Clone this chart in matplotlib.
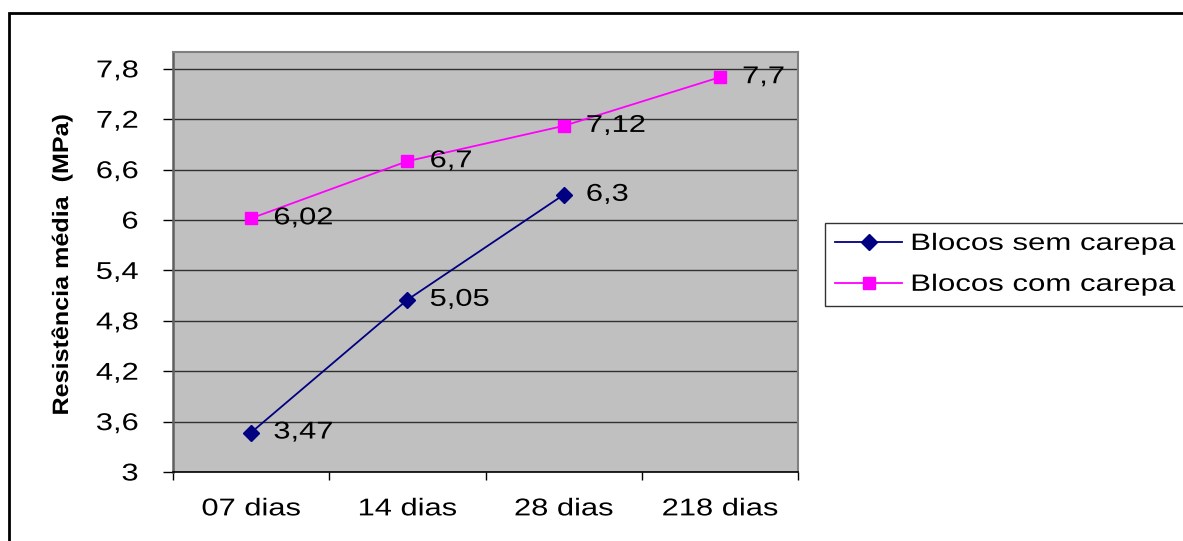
import matplotlib
matplotlib.use("Agg")
import matplotlib.pyplot as plt
from matplotlib.patches import Rectangle
from matplotlib.patheffects import AbstractPathEffect
from matplotlib.transforms import Affine2D
import numpy as np

categories = ["07 dias", "14 dias", "28 dias", "218 dias"]
sem_carepa = [3.47, 5.05, 6.3]
com_carepa = [6.02, 6.7, 7.12, 7.7]
sem_labels = ["3,47", "5,05", "6,3"]
com_labels = ["6,02", "6,7", "7,12", "7,7"]
y_ticks = [3.0, 3.6, 4.2, 4.8, 5.4, 6.0, 6.6, 7.2, 7.8]
y_tick_labels = ["3", "3,6", "4,2", "4,8", "5,4", "6", "6,6", "7,2", "7,8"]
series_names = ["Blocos sem carepa", "Blocos com carepa"]
y_label = "Resistência média  (MPa)"

plt.rcParams['font.family'] = ['Liberation Sans', 'DejaVu Sans']


class Stretch(AbstractPathEffect):
    """Widen glyphs along the text baseline (the reference text is horizontally stretched)."""

    def __init__(self, sx, anchor="left"):
        super().__init__()
        self.sx = sx
        self.anchor = anchor

    def draw_path(self, renderer, gc, tpath, affine, rgbFace=None):
        ext = tpath.get_extents()
        if self.anchor == "center":
            cx = (ext.x0 + ext.x1) / 2
        elif self.anchor == "right":
            cx = ext.x1
        else:
            cx = 0.0
        pre = Affine2D().translate(-cx, 0).scale(self.sx, 1.0).translate(cx, 0)
        renderer.draw_path(gc, tpath, pre + affine, rgbFace)


SX = 1.27

W, H = 1183, 541
fig = plt.figure(figsize=(W / 100, H / 100), dpi=100)
fig.patch.set_facecolor("white")

# outer chart border (right/bottom run off the image)
fig.patches.append(Rectangle((9 / W, -0.1), 1.2, 1 - 13 / H + 0.1, transform=fig.transFigure,
                             fill=False, edgecolor="black", linewidth=2.0, zorder=0))

ax = fig.add_axes([173 / W, 1 - 472 / H, (798 - 173) / W, (472 - 52) / H])
ax.set_facecolor("#C0C0C0")

x_sem = np.arange(len(sem_carepa))
x_com = np.arange(len(com_carepa))

ax.plot(x_sem, sem_carepa, color="#000080", linewidth=1.3, marker="D", markersize=8,
        markerfacecolor="#000080", markeredgecolor="#000080", label=series_names[0], zorder=3)
ax.plot(x_com, com_carepa, color="#FF00FF", linewidth=1.3, marker="s", markersize=9,
        markerfacecolor="#FF00FF", markeredgecolor="#FF00FF", label=series_names[1], zorder=3)

for xs, ys, labs in ((x_sem, sem_carepa, sem_labels), (x_com, com_carepa, com_labels)):
    for xi, yi, lab in zip(xs, ys, labs):
        t = ax.annotate(lab, (xi, yi), xytext=(16, 0), textcoords="offset points",
                        va="center", ha="left", fontsize=17.5, color="black", zorder=4)
        t.set_path_effects([Stretch(SX, "left")])

ax.set_xlim(-0.5, len(categories) - 0.5)
ax.set_ylim(3.0, 8.0)

ax.set_yticks(y_ticks)
ax.set_yticklabels(y_tick_labels, fontsize=17.5)
ax.tick_params(axis="y", direction="out", length=7, width=1, pad=18, color="black")
for t in ax.get_yticklabels():
    t.set_path_effects([Stretch(SX, "right")])

ax.set_xticks(np.arange(len(categories)))
ax.set_xticklabels(categories, fontsize=17.5)
ax.set_xticks(np.arange(len(categories) + 1) - 0.5, minor=True)
ax.tick_params(axis="x", which="major", length=0, pad=19)
ax.tick_params(axis="x", which="minor", direction="out", length=6, width=1, color="black")
for t in ax.get_xticklabels():
    t.set_path_effects([Stretch(SX, "center")])

ax.yaxis.grid(True, color="#303030", linewidth=1.0)
ax.set_axisbelow(True)

for side in ["top", "right"]:
    ax.spines[side].set_color("#808080")
    ax.spines[side].set_linewidth(1.5)
ax.spines["left"].set_color("#606060")
ax.spines["left"].set_linewidth(1.8)
ax.spines["bottom"].set_color("black")
ax.spines["bottom"].set_linewidth(1.2)

yl = ax.set_ylabel(y_label, fontsize=16, fontweight="bold")
ax.yaxis.set_label_coords(-0.160, 0.493)
yl.set_path_effects([Stretch(1.13, "center")])

leg = fig.legend(loc="upper left",
                 bbox_to_anchor=(825 / W, 1 - 303 / H, 500 / W, 80 / H),
                 mode="expand", fontsize=17, frameon=True, fancybox=False,
                 edgecolor="black", handlelength=2.85, handletextpad=0.34,
                 borderpad=0.42, labelspacing=0.8, borderaxespad=0)
leg.get_frame().set_linewidth(1.0)
for t in leg.get_texts():
    t.set_path_effects([Stretch(1.32, "left")])

fig.savefig("out.png", dpi=100)
